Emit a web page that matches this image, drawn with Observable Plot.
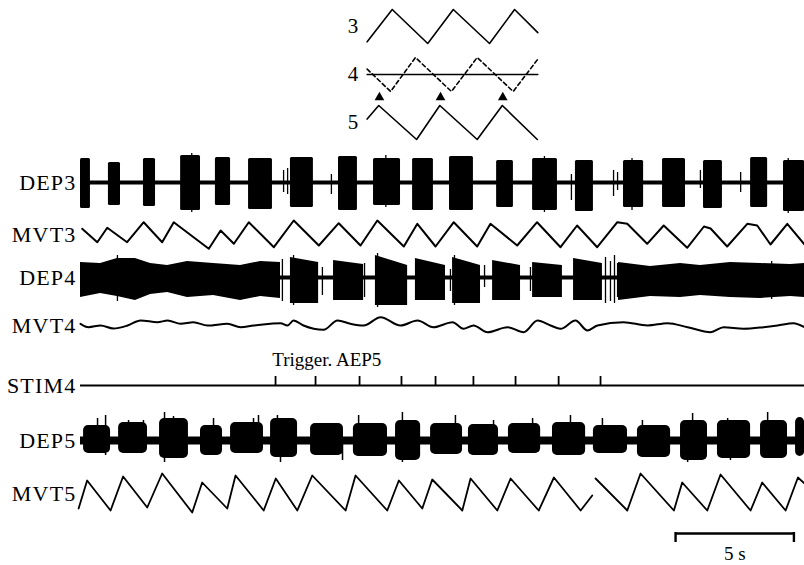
<!DOCTYPE html>
<html><head><meta charset="utf-8">
<script src="https://cdn.jsdelivr.net/npm/d3@7"></script>
<script src="https://cdn.jsdelivr.net/npm/@observablehq/plot@0.6"></script>
<style>
html,body{margin:0;padding:0;background:#fff;}
#chart svg{display:block;}
</style></head><body><div id="chart"></div>
<script>
// ---------- DATA (time in s, amplitudes in arbitrary units) ----------
const traceLabels = ["DEP3", "MVT3", "DEP4", "MVT4", "STIM4", "DEP5", "MVT5"];
const insetLabels = ["3", "4", "5"];
const triggerLabel = "Trigger. AEP5";
const scaleLabel = "5 s";
const scaleBarSeconds = [25.14, 30.14];

// DEP3 bursts: [start, end, up, down]
const dep3Bursts = [[0.00,0.42,24,26],[1.18,1.69,20,23],[2.66,3.17,24,24],[4.23,5.07,27,28],[5.70,6.34,25,23],[7.10,8.11,24,27],[8.87,9.84,25,25],[10.90,11.70,26,28],[12.38,13.52,24,23],[14.03,14.91,24,28],[15.59,16.60,26,28],[17.58,18.29,22,25],[19.10,20.15,24,28],[20.91,21.67,22,29],[22.94,23.79,22,25],[24.59,25.56,24,25],[26.32,27.12,22,26],[28.31,29.03,25,25],[29.70,30.59,22,29]];
const dep3Spikes = [[8.58,12,10],[8.75,14,12],[10.60,8,12],[20.74,8,18],[22.52,12,14],[22.69,10,8],[26.19,12,6],[27.89,10,10],[4.70,29,30],[12.90,27,25],[19.60,26,30],[23.30,24,28],[29.90,24,31]];

// MVT3: [t, value]
const mvt3 = [[0.07,5.7],[0.71,-7.7],[1.13,6.7],[1.97,-7.7],[2.67,12.3],[3.45,-7.7],[3.94,12.3],[5.42,-14.3],[5.92,4],[6.48,-9.3],[7.11,12.3],[8.17,-12.7],[9.01,14],[10.07,-11],[10.91,11.3],[11.83,-11],[12.54,14],[13.66,-12],[14.23,10.7],[15.00,-12],[15.77,12.3],[16.76,-12],[17.32,10.7],[18.45,-11],[19.29,12.3],[20.28,-12.7],[20.98,9],[21.83,-12.7],[22.68,12.3],[23.10,10.7],[23.94,-9.3],[24.64,9],[25.63,-13.3],[26.34,8],[26.62,6],[27.32,-12],[28.17,10.7],[28.59,9],[29.15,-10],[29.86,10.7],[30.59,-10]];

// DEP4 continuous activity envelopes: [t, up, down]
const dep4Start = [[0,15,20],[0.85,14,16],[1.56,19,19],[2.32,19,23],[2.96,14,17],[3.68,12,15],[4.52,16,20],[5.62,14,18],[6.76,12,23],[7.61,16,19],[8.45,15,21]];
const dep4End = [[22.73,15,23],[24.08,11,19],[25.35,14,20],[26.19,12,18],[27.46,15,20],[28.73,14,21],[30.00,13,19],[30.59,14,20]];
// DEP4 bursts: [start, end, upStart, upEnd, down]
const dep4Bursts = [[8.87,10.06,20,15,26],[10.69,11.96,17,13,23],[12.46,13.82,22,12,28],[14.15,15.42,19,12,23],[15.72,16.90,20,12,26],[17.41,18.59,17,12,23],[19.10,20.36,15,12,20],[20.83,22.05,19,14,23]];
const dep4Spikes = [[8.53,18,24],[10.22,10,18],[12.00,14,20],[15.63,8,14],[17.07,12,10],[19.01,10,14],[22.18,20,26],[22.39,16,24],[22.56,22,26],[22.69,14,20],[1.56,22,24],[9.00,22,28],[12.55,24,30],[15.80,22,28],[29.20,16,22]];

// MVT4: [t, value]
const mvt4 = [[0,1.7],[0.34,-1.7],[0.85,0],[1.39,-3],[1.99,0],[2.54,5],[3.25,3.3],[3.68,5],[4.23,1.7],[4.77,3.3],[5.37,0],[6.21,1.7],[6.76,-1.7],[7.31,0],[8.03,1.7],[8.45,2.3],[8.75,0],[9.00,5],[9.42,0],[10.27,-4.3],[10.86,5],[11.41,1.7],[11.96,0],[12.68,8.3],[13.52,0],[14.24,5],[14.91,-1.7],[15.72,3.3],[16.18,-3.3],[16.60,0],[17.20,-6.7],[18.04,-1.7],[18.72,-6.7],[19.31,5],[19.86,0],[20.28,-3.3],[20.91,5],[21.42,-5],[21.84,0],[22.94,3.3],[23.96,0],[24.80,2.3],[25.65,-1.7],[26.62,-6.7],[27.17,-1.7],[28.01,-3.3],[28.86,-1.7],[29.45,0],[30.12,2.3],[30.59,-1.7]];

// STIM4 trigger times (s) and pulse height
const stimTicks = [8.24, 9.93, 11.79, 13.56, 15.00, 16.60, 18.38, 20.20, 21.97];
const stimHeight = 9;

// DEP5 bursts: [start, end, up, down]
const dep5Bursts = [[0.13,1.27,15,13],[1.61,2.83,18,13],[3.34,4.56,22,18],[5.07,6.00,15,15],[6.34,7.73,18,13],[8.03,9.17,22,17],[9.72,11.11,17,15],[11.53,12.97,17,16],[13.31,14.37,20,20],[14.79,16.14,17,14],[16.39,17.66,16,15],[18.08,19.44,17,13],[19.94,21.34,18,15],[21.67,23.11,15,13],[23.53,24.93,15,17],[25.35,26.49,20,20],[26.91,28.31,20,18],[28.73,29.87,20,18],[30.21,30.59,23,16]];
const dep5Spikes = [[0.72,22,0],[1.06,25,15],[2.03,20,0],[2.66,20,0],[3.55,28,22],[3.93,24,0],[5.62,22,0],[7.31,22,0],[7.52,25,0],[8.32,25,0],[8.45,0,22],[9.08,20,0],[11.07,0,20],[11.75,25,0],[13.60,28,22],[15.84,25,0],[17.45,20,0],[19.10,22,0],[20.70,25,0],[22.05,22,0],[23.74,20,0],[25.65,0,22],[25.86,27,0],[27.34,22,0],[27.46,0,20],[29.03,28,0],[30.42,22,0]];

// MVT5 (two pieces, the pen trace is broken between them): [t, value]
const mvt5A = [[-0.08,-15],[0.28,13],[1.27,-17],[1.80,17],[2.82,-14],[3.45,20],[4.72,-19],[5.14,11],[6.20,-15],[6.55,18],[7.74,-17],[8.25,15],[9.16,-17],[9.79,18],[11.20,-17],[11.62,18],[12.96,-17],[13.45,13],[14.44,-15],[14.86,14],[16.13,-17],[16.48,15],[17.61,-17],[18.17,15],[19.36,-17],[20.00,16],[21.13,-17],[21.62,-2]];
const mvt5B = [[21.76,15],[23.10,-17],[23.66,20],[25.07,-17],[25.42,11],[26.48,-17],[27.04,19],[28.31,-17],[28.80,11],[29.79,-17],[30.31,16],[30.59,10]];

// Inset schematic (normalised amplitude)
const inset3 = [[12.11,-0.9],[13.17,1],[14.67,-1],[15.75,1],[17.28,-1],[18.34,1],[19.32,-0.36]];
const inset4 = [[12.11,0.32],[13.10,-1],[14.15,1],[15.67,-1],[16.76,1],[18.28,-1],[19.32,0.9]];
const inset4Ref = [[12.11,0],[19.32,0]];
const inset5 = [[12.11,0.2],[12.60,1],[14.20,-1],[15.18,1],[16.76,-1],[17.82,1],[19.30,-1]];
const insetArrows = [12.63, 15.21, 17.84];
const insetArrowLevel = -1.35;

// ---------- LAYOUT ----------
const W = 804, H = 565;
const traceLeftPx = 80, pxPerSec = 23.67;
const tEnd = (W - traceLeftPx) / pxPerSec;
const row = {i3: 26, i4: 74, i5: 122, DEP3: 182, MVT3: 234, DEP4: 277, MVT4: 325, STIM4: 385, DEP5: 440, MVT5: 493, bar: 533};
const gain = 1, insetGain = 17;
const font = "Liberation Serif";

const up = (r, v) => row[r] - gain * v;
const ins = (r, v) => row[r] - insetGain * v;

const dep4Env = [
  ...dep4Start.map(d => ({t: d[0], u: d[1], d: d[2], z: "a"})),
  ...dep4End.map(d => ({t: d[0], u: d[1], d: d[2], z: "b"})),
  ...dep4Bursts.flatMap((b, i) => [{t: b[0], u: b[2], d: b[4], z: "k" + i}, {t: b[1], u: b[3], d: b[4], z: "k" + i}])
];
const mvt5 = [...mvt5A.map(d => ({t: d[0], v: d[1], z: "a"})), ...mvt5B.map(d => ({t: d[0], v: d[1], z: "b"}))];

const chart = Plot.plot({
  width: W, height: H, margin: 0,
  x: {domain: [-traceLeftPx / pxPerSec, tEnd], range: [0, W], axis: null},
  y: {domain: [0, H], range: [0, H], axis: null},
  style: {background: "#fff", fontFamily: font, color: "#000"},
  marks: [
    // inset schematic
    Plot.line(inset3, {x: d => d[0], y: d => ins("i3", d[1]), stroke: "#000", strokeWidth: 1.6}),
    Plot.line(inset4Ref, {x: d => d[0], y: d => ins("i4", d[1]), stroke: "#000", strokeWidth: 1.6}),
    Plot.line(inset4, {x: d => d[0], y: d => ins("i4", d[1]), stroke: "#000", strokeWidth: 1.6, strokeDasharray: "4,3"}),
    Plot.line(inset5, {x: d => d[0], y: d => ins("i5", d[1]), stroke: "#000", strokeWidth: 1.6}),
    Plot.dot(insetArrows, {x: d => d, y: () => ins("i4", insetArrowLevel), symbol: "triangle", r: 3.6, fill: "#000", stroke: "none"}),
    Plot.text(insetLabels, {x: () => inset3[0][0], y: d => row["i" + d], text: d => d, textAnchor: "end", dx: -9, fontSize: 21, fontFamily: font, fill: "#000"}),

    // DEP3
    Plot.ruleY([row.DEP3], {x1: () => 0, x2: () => tEnd, stroke: "#000", strokeWidth: 4}),
    Plot.rect(dep3Bursts, {x1: d => d[0], x2: d => d[1], y1: d => up("DEP3", d[2]), y2: d => up("DEP3", -d[3]), fill: "#000", rx: 1.5}),
    Plot.ruleX(dep3Spikes, {x: d => d[0], y1: d => up("DEP3", d[1]), y2: d => up("DEP3", -d[2]), stroke: "#000", strokeWidth: 1.3}),

    // MVT3
    Plot.line(mvt3, {x: d => d[0], y: d => up("MVT3", d[1]), stroke: "#000", strokeWidth: 2, strokeLinejoin: "round"}),

    // DEP4
    Plot.ruleY([row.DEP4], {x1: () => 0, x2: () => tEnd, stroke: "#000", strokeWidth: 4}),
    Plot.area(dep4Env, {x1: d => d.t, y1: d => up("DEP4", d.u), y2: d => up("DEP4", -d.d), z: d => d.z, fill: "#000"}),
    Plot.ruleX(dep4Spikes, {x: d => d[0], y1: d => up("DEP4", d[1]), y2: d => up("DEP4", -d[2]), stroke: "#000", strokeWidth: 1.3}),

    // MVT4
    Plot.line(mvt4, {x: d => d[0], y: d => up("MVT4", d[1]), stroke: "#000", strokeWidth: 2, curve: "monotone-x"}),

    // STIM4
    Plot.ruleY([row.STIM4], {x1: () => 0, x2: () => tEnd, stroke: "#000", strokeWidth: 2}),
    Plot.ruleX(stimTicks, {x: d => d, y1: () => up("STIM4", stimHeight), y2: () => up("STIM4", -1), stroke: "#000", strokeWidth: 1.8}),
    Plot.text([triggerLabel], {x: () => stimTicks[0] - 0.14, y: () => row.STIM4 - 26, text: d => d, textAnchor: "start", fontSize: 19, fontFamily: font, fill: "#000"}),

    // DEP5
    Plot.ruleY([row.DEP5], {x1: () => 0, x2: () => tEnd, stroke: "#000", strokeWidth: 8}),
    Plot.rect(dep5Bursts, {x1: d => d[0], x2: d => d[1], y1: d => up("DEP5", d[2]), y2: d => up("DEP5", -d[3]), fill: "#000", rx: 5}),
    Plot.ruleX(dep5Spikes, {x: d => d[0], y1: d => up("DEP5", d[1]), y2: d => up("DEP5", -d[2]), stroke: "#000", strokeWidth: 1.5}),

    // MVT5
    Plot.line(mvt5, {x: d => d.t, y: d => up("MVT5", d.v), z: d => d.z, stroke: "#000", strokeWidth: 1.8, strokeLinejoin: "round"}),

    // trace labels
    Plot.text(traceLabels, {x: () => 0, y: d => row[d], text: d => d, textAnchor: "end", dx: -4, fontSize: 22, fontFamily: font, fill: "#000"}),

    // scale bar
    Plot.ruleY([row.bar], {x1: () => scaleBarSeconds[0], x2: () => scaleBarSeconds[1], stroke: "#000", strokeWidth: 2.4}),
    Plot.ruleX(scaleBarSeconds, {x: d => d, y1: () => row.bar - 1, y2: () => row.bar + 9, stroke: "#000", strokeWidth: 2.4}),
    Plot.text([scaleLabel], {x: () => (scaleBarSeconds[0] + scaleBarSeconds[1]) / 2, y: () => row.bar + 20, text: d => d, fontSize: 19, fontFamily: font, fill: "#000"})
  ]
});
// widen trace-label lettering slightly, like the original typesetting
d3.select(chart).selectAll("text").filter(function() { return traceLabels.includes(this.textContent); })
  .style("letter-spacing", "1.2px");
document.getElementById("chart").append(chart);
</script></body></html>
